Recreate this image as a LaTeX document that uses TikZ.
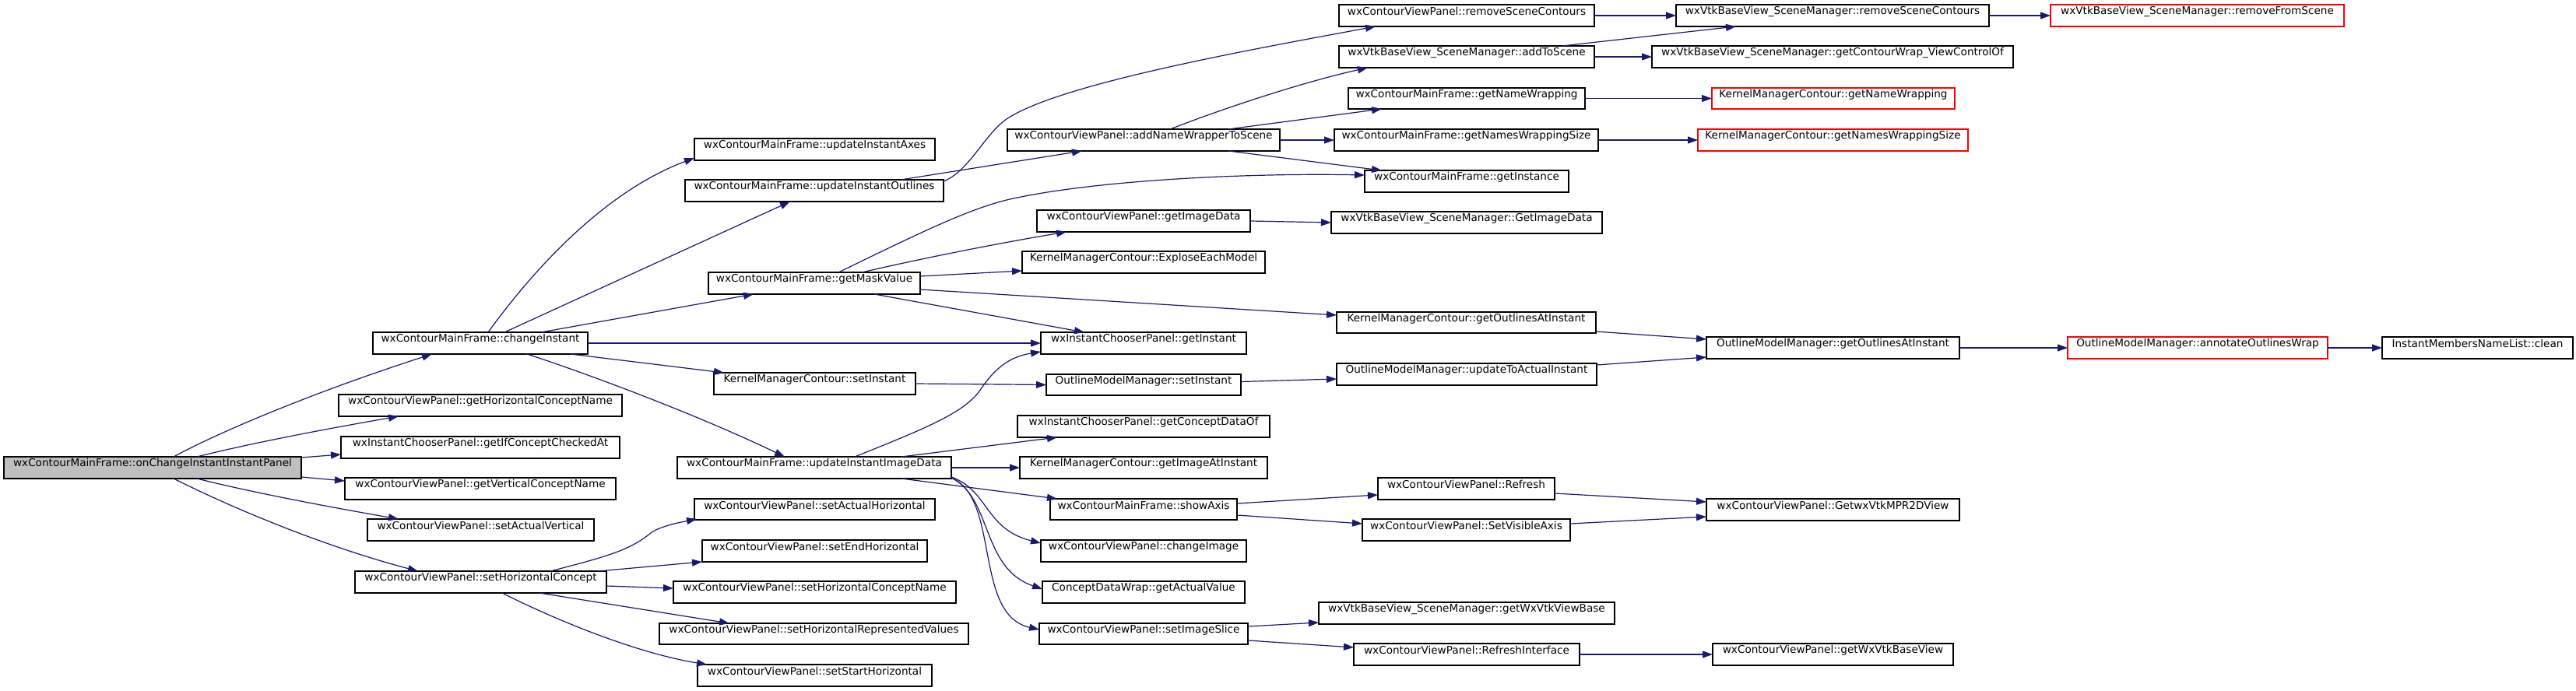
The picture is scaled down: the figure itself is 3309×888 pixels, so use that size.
\documentclass[tikz,border=0pt]{standalone}
\usepackage{fontspec}
\setmainfont{DejaVu Sans}
\usetikzlibrary{arrows.meta,fit,calc}
\definecolor{edgeblue}{HTML}{191970}
\definecolor{rootgray}{HTML}{BFBFBF}
\begin{document}
\begin{tikzpicture}[x=1pt,y=-1pt,
  box/.style={draw=black,line width=1.3pt,inner sep=0pt,outer sep=0pt,font=\fontsize{13.6}{16}\selectfont},
  redbox/.style={box,draw=red},
  rootbox/.style={box,fill=rootgray},
  e/.style={draw=edgeblue,line width=1.2pt,-{Triangle[length=13pt,width=9pt]}}]
\useasboundingbox (0,0) rectangle (3309,888);
% nodes
\node[rootbox,fit={(5,587)(387,615)}] (root) {wxContourMainFrame::onChangeInstantInstantPanel};
\node[box,fit={(479,427)(755,455)}] (ci) {wxContourMainFrame::changeInstant};
\node[box,fit={(435,507)(799,535)}] (ghcn) {wxContourViewPanel::getHorizontalConceptName};
\node[box,fit={(438,561)(796,589)}] (gicc) {wxInstantChooserPanel::getIfConceptCheckedAt};
\node[box,fit={(443,614)(791,642)}] (gvcn) {wxContourViewPanel::getVerticalConceptName};
\node[box,fit={(472,667)(763,695)}] (sav) {wxContourViewPanel::setActualVertical};
\node[box,fit={(456,734)(779,762)}] (shc) {wxContourViewPanel::setHorizontalConcept};

\node[box,fit={(892,178)(1201,206)}] (uia) {wxContourMainFrame::updateInstantAxes};
\node[box,fit={(880,231)(1212,259)}] (uio) {wxContourMainFrame::updateInstantOutlines};
\node[box,fit={(910,350)(1182,378)}] (gmv) {wxContourMainFrame::getMaskValue};
\node[box,fit={(917,479)(1176,507)}] (kmcsi) {KernelManagerContour::setInstant};
\node[box,fit={(870,587)(1222,615)}] (uiid) {wxContourMainFrame::updateInstantImageData};
\node[box,fit={(892,641)(1201,668)}] (sah) {wxContourViewPanel::setActualHorizontal};
\node[box,fit={(902,694)(1191,722)}] (seh) {wxContourViewPanel::setEndHorizontal};
\node[box,fit={(865,747)(1228,775)}] (shcn) {wxContourViewPanel::setHorizontalConceptName};
\node[box,fit={(847,801)(1244,828)}] (shrv) {wxContourViewPanel::setHorizontalRepresentedValues};
\node[box,fit={(896,854)(1197,882)}] (ssh) {wxContourViewPanel::setStartHorizontal};

\node[box,fit={(1294,166)(1644,194)}] (anws) {wxContourViewPanel::addNameWrapperToScene};
\node[box,fit={(1332,270)(1606,298)}] (vgid) {wxContourViewPanel::getImageData};
\node[box,fit={(1313,323)(1625,351)}] (eem) {KernelManagerContour::ExploseEachModel};
\node[box,fit={(1337,427)(1601,455)}] (gi) {wxInstantChooserPanel::getInstant};
\node[box,fit={(1344,481)(1594,508)}] (ommsi) {OutlineModelManager::setInstant};
\node[box,fit={(1307,534)(1631,562)}] (gcdo) {wxInstantChooserPanel::getConceptDataOf};
\node[box,fit={(1310,587)(1628,615)}] (giai) {KernelManagerContour::getImageAtInstant};
\node[box,fit={(1349,641)(1589,668)}] (sa) {wxContourMainFrame::showAxis};
\node[box,fit={(1337,694)(1601,722)}] (cim) {wxContourViewPanel::changeImage};
\node[box,fit={(1339,747)(1599,775)}] (gav) {ConceptDataWrap::getActualValue};
\node[box,fit={(1335,801)(1603,828)}] (sis) {wxContourViewPanel::setImageSlice};

\node[box,fit={(1720,6)(2048,34)}] (rscv) {wxContourViewPanel::removeSceneContours};
\node[box,fit={(1720,59)(2048,87)}] (ats) {wxVtkBaseView\_SceneManager::addToScene};
\node[box,fit={(1732,113)(2036,140)}] (gnw) {wxContourMainFrame::getNameWrapping};
\node[box,fit={(1714,166)(2053,194)}] (gnws) {wxContourMainFrame::getNamesWrappingSize};
\node[box,fit={(1753,219)(2015,247)}] (ginst) {wxContourMainFrame::getInstance};
\node[box,fit={(1710,272)(2058,300)}] (smgid) {wxVtkBaseView\_SceneManager::GetImageData};
\node[box,fit={(1717,401)(2050,428)}] (kmcgo) {KernelManagerContour::getOutlinesAtInstant};
\node[box,fit={(1717,467)(2051,495)}] (utai) {OutlineModelManager::updateToActualInstant};
\node[box,fit={(1770,614)(1997,642)}] (ref) {wxContourViewPanel::Refresh};
\node[box,fit={(1750,667)(2017,695)}] (sva) {wxContourViewPanel::SetVisibleAxis};
\node[box,fit={(1694,774)(2074,802)}] (gwvvb) {wxVtkBaseView\_SceneManager::getWxVtkViewBase};
\node[box,fit={(1739,827)(2029,855)}] (rif) {wxContourViewPanel::RefreshInterface};

\node[box,fit={(2153,6)(2555,34)}] (smrsc) {wxVtkBaseView\_SceneManager::removeSceneContours};
\node[box,fit={(2122,59)(2586,87)}] (gcw) {wxVtkBaseView\_SceneManager::getContourWrap\_ViewControlOf};
\node[redbox,fit={(2199,113)(2511,140)}] (kgnw) {KernelManagerContour::getNameWrapping};
\node[redbox,fit={(2181,166)(2528,194)}] (kgnws) {KernelManagerContour::getNamesWrappingSize};
\node[box,fit={(2192,433)(2517,461)}] (ommgo) {OutlineModelManager::getOutlinesAtInstant};
\node[box,fit={(2192,641)(2517,669)}] (mpr) {wxContourViewPanel::GetwxVtkMPR2DView};
\node[box,fit={(2200,827)(2509,855)}] (gwbv) {wxContourViewPanel::getWxVtkBaseView};

\node[redbox,fit={(2634,6)(3011,34)}] (rfs) {wxVtkBaseView\_SceneManager::removeFromScene};
\node[redbox,fit={(2656,433)(2990,461)}] (aow) {OutlineModelManager::annotateOutlinesWrap};
\node[box,fit={(3060,433)(3305,461)}] (cln) {InstantMembersNameList::clean};

% edges from root
\draw[e] ($(root.north west)+(218,0)$) .. controls (280,556) and (400,505) .. ($(ci.south west)+(76,0)$);
\draw[e] ($(root.north west)+(248,0)$) .. controls (320,570) and (420,551) .. ($(ghcn.south west)+(77,0)$);
\draw[e] ($(root.north east)+(0,1)$) -- ($(gicc.south west)+(0,-5)$);
\draw[e] ($(root.south east)+(0,-2)$) -- ($(gvcn.north west)+(0,4)$);
\draw[e] ($(root.south west)+(248,0)$) .. controls (320,632) and (420,651) .. ($(sav.north west)+(40,0)$);
\draw[e] ($(root.south west)+(218,0)$) .. controls (313,660) and (427,705) .. ($(shc.north west)+(81,0)$);

% edges from changeInstant
\draw[e] ($(ci.north west)+(148,0)$) .. controls (690,340) and (780,245) .. ($(uia.south west)+(0,-3)$);
\draw[e] ($(ci.north west)+(169,0)$) -- ($(uio.south west)+(135,0)$);
\draw[e] ($(ci.north west)+(216,0)$) -- ($(gmv.south west)+(58,0)$);
\draw[e] (ci.east) -- (gi.west);
\draw[e] ($(ci.south west)+(254,0)$) -- ($(kmcsi.north west)+(13,0)$);
\draw[e] ($(ci.south west)+(198,0)$) .. controls (760,482) and (900,535) .. ($(uiid.north west)+(138,0)$);

% edges from updateInstantOutlines
\draw[e] ($(uio.north east)+(0,2)$) .. controls (1245,220) and (1265,172) .. (1293,153) .. controls (1360,108) and (1600,65) .. ($(rscv.south west)+(47,0)$);
\draw[e] ($(uio.north west)+(277,0)$) -- ($(anws.south west)+(96,0)$);

% edges from getMaskValue
\draw[e] ($(gmv.north west)+(167,0)$) .. controls (1170,305) and (1240,270) .. (1293,257) .. controls (1400,232) and (1600,222) .. ($(ginst.north west)+(0,6)$);
\draw[e] ($(gmv.north west)+(197,0)$) .. controls (1180,333) and (1280,313) .. ($(vgid.south west)+(38,0)$);
\draw[e] ($(gmv.north east)+(0,5)$) -- ($(eem.south west)+(0,-3)$);
\draw[e] ($(gmv.south east)+(0,-6)$) -- ($(kmcgo.north west)+(0,4)$);
\draw[e] ($(gmv.south west)+(213,0)$) -- ($(gi.north west)+(56,0)$);

% edges from addNameWrapperToScene
\draw[e] ($(anws.north west)+(209,0)$) .. controls (1580,136) and (1680,104) .. ($(ats.south west)+(37,0)$);
\draw[e] ($(anws.north west)+(284,0)$) -- ($(gnw.south west)+(43,0)$);
\draw[e] (anws.east) -- (gnws.west);
\draw[e] ($(anws.south west)+(284,0)$) -- ($(ginst.north west)+(22,0)$);

\draw[e] (vgid.east) -- (smgid.west);
\draw[e] (rscv.east) -- (smrsc.west);
\draw[e] ($(ats.north west)+(287,0)$) -- ($(smrsc.south west)+(77,0)$);
\draw[e] (ats.east) -- (gcw.west);
\draw[e] (gnw.east) -- (kgnw.west);
\draw[e] (gnws.east) -- (kgnws.west);
\draw[e] ($(kmcgo.south east)+(0,-2)$) -- ($(ommgo.north west)+(0,3)$);
\draw[e] ($(utai.north east)+(0,2)$) -- ($(ommgo.south west)+(0,-2)$);
\draw[e] (ommgo.east) -- (aow.west);
\draw[e] (aow.east) -- (cln.west);
\draw[e] (smrsc.east) -- (rfs.west);

\draw[e] (kmcsi.east) -- (ommsi.west);
\draw[e] ($(ommsi.east)+(0,-4)$) -- ($(utai.south west)+(0,-8)$);

% edges from updateInstantImageData
\draw[e] ($(uiid.north west)+(228,0)$) .. controls (1190,550) and (1240,530) .. (1260,500) .. controls (1280,470) and (1300,458) .. ($(gi.south west)+(0,-3)$);
\draw[e] ($(uiid.north west)+(288,0)$) -- ($(gcdo.south west)+(51,0)$);
\draw[e] (uiid.east) -- (giai.west);
\draw[e] ($(uiid.south west)+(288,0)$) -- ($(sa.north west)+(9,0)$);
\draw[e] ($(uiid.south east)+(0,-2)$) .. controls (1270,630) and (1265,680) .. ($(cim.north west)+(0,4)$);
\draw[e] ($(uiid.south east)+(0,-1)$) .. controls (1275,640) and (1260,730) .. ($(gav.north west)+(0,10)$);
\draw[e] ($(uiid.south east)+(0,-1)$) .. controls (1285,640) and (1250,790) .. ($(sis.north west)+(0,8)$);

\draw[e] ($(sa.north east)+(0,6)$) -- ($(ref.south west)+(0,-6)$);
\draw[e] ($(sa.south east)+(0,-6)$) -- ($(sva.north west)+(0,6)$);
\draw[e] ($(ref.south east)+(0,-8)$) -- ($(mpr.north west)+(0,4)$);
\draw[e] ($(sva.north east)+(0,6)$) -- ($(mpr.south west)+(0,-5)$);
\draw[e] ($(sis.north east)+(0,4)$) -- ($(gwvvb.south west)+(0,-2)$);
\draw[e] ($(sis.south east)+(0,-5)$) -- ($(rif.north west)+(0,5)$);
\draw[e] (rif.east) -- (gwbv.west);

% edges from setHorizontalConcept
\draw[e] ($(shc.north west)+(251,0)$) .. controls (780,715) and (810,707) .. (837,684) .. controls (850,676) and (870,672) .. ($(sah.south west)+(3,-1)$);
\draw[e] ($(shc.north west)+(312,0)$) -- (seh.south west);
\draw[e] ($(shc.east)+(0,5)$) -- ($(shcn.west)+(0,-5)$);
\draw[e] ($(shc.south west)+(237,0)$) -- ($(shrv.north west)+(90,0)$);
\draw[e] ($(shc.south west)+(189,0)$) .. controls (700,790) and (810,838) .. ($(ssh.north west)+(12,0)$);
\end{tikzpicture}
\end{document}
